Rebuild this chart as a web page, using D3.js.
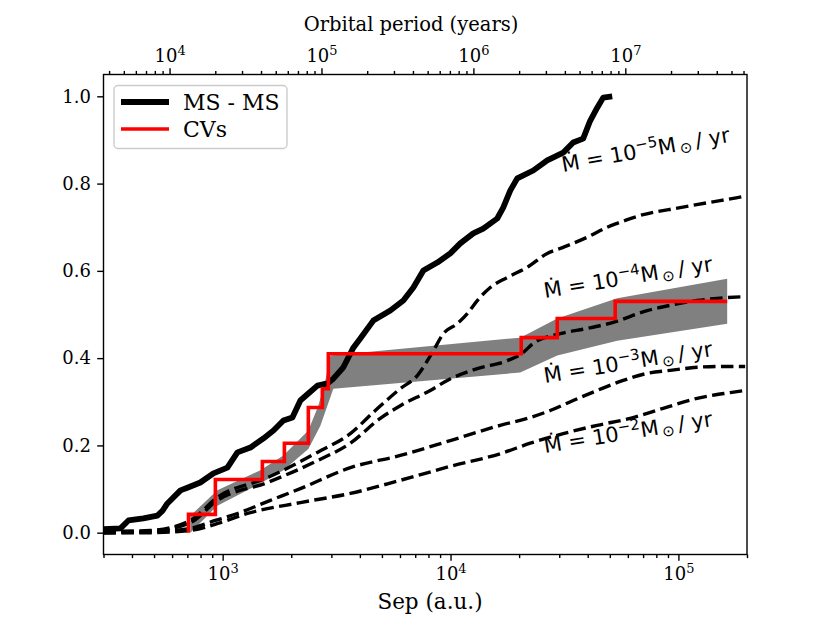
<!DOCTYPE html>
<html><head><meta charset="utf-8">
<script src="https://cdn.jsdelivr.net/npm/d3@7"></script>
<style>body{margin:0;background:#fff}svg{display:block}</style>
</head><body><svg id="c" width="830" height="623"></svg>
<script>
// ---------- data ----------
const msmsSep  = [300,356,386,449,517,544,572,653,700,798,911,1049,1161,1324,1510,1671,1848,2023,2193,2377,2605,2882,3061,3386,3747,4018,4583,5444,6209,6870,7599,8750,9976,11035,12584,13918,16032,17028,18281,19621,23067,26563,31236,34532,38194,41000,44031,46774,51245];
const msmsFrac = [0.008,0.010,0.028,0.033,0.039,0.050,0.067,0.097,0.103,0.115,0.136,0.149,0.184,0.195,0.216,0.234,0.257,0.264,0.303,0.319,0.337,0.342,0.353,0.379,0.424,0.445,0.486,0.509,0.532,0.562,0.601,0.619,0.640,0.663,0.686,0.697,0.720,0.745,0.784,0.812,0.830,0.853,0.871,0.894,0.903,0.944,0.974,0.997,1.0];

const cvSep  = [708,708,929,1494,1866,2377,2738,2909,20430,29400,52800,163700];
const cvFrac = [0,0.042,0.122,0.163,0.205,0.287,0.330,0.410,0.447,0.491,0.530,0.530];

const bandUpSep  = [722,948,1464,1847,2377,2630,2823,2970,20230,29400,53880,163700];
const bandUpFrac = [0.039,0.097,0.143,0.177,0.234,0.291,0.349,0.406,0.447,0.491,0.537,0.582];
const bandLoSep  = [722,948,1464,1847,2377,2685,2881,3060,20230,29400,53880,163700];
const bandLoFrac = [0.0,0.062,0.113,0.143,0.192,0.245,0.291,0.330,0.367,0.406,0.440,0.479];

const mdot5Sep  = [300,482,722,948,1572,2604,3633,4677,6020,7150,8404,9296,10705,11846,13105,14942,17744,21710,26563,31236,39800,48690,53880,67980,101800,152400,196300];
const mdot5Frac = [0.003,0.005,0.028,0.081,0.126,0.184,0.227,0.280,0.330,0.360,0.417,0.456,0.479,0.502,0.532,0.562,0.585,0.608,0.640,0.654,0.677,0.700,0.709,0.727,0.745,0.761,0.771];
const mdot4Sep  = [300,482,722,948,1572,2604,3633,4918,6020,8150,9678,13105,17744,20640,23067,30290,39800,51740,72940,92000,120900,147900,196300];
const mdot4Frac = [0.0,0.003,0.023,0.074,0.115,0.165,0.205,0.262,0.291,0.326,0.349,0.376,0.394,0.411,0.434,0.456,0.468,0.482,0.509,0.521,0.532,0.537,0.541];
const mdot3Sep  = [300,482,722,929,1161,1620,2193,3633,6020,9976,16530,22380,27380,34532,44031,57240,72940,92000,120900,147900,196300];
const mdot3Frac = [0.0,0.002,0.010,0.028,0.044,0.074,0.101,0.149,0.177,0.211,0.246,0.264,0.280,0.303,0.326,0.349,0.365,0.372,0.379,0.381,0.381];
const mdot2Sep  = [300,482,722,978,1284,2193,3633,6020,9976,16530,22380,31236,44031,61430,85730,120900,168700,196300];
const mdot2Frac = [0.0,0.0,0.005,0.023,0.044,0.069,0.090,0.120,0.152,0.181,0.205,0.227,0.246,0.262,0.285,0.308,0.321,0.326];

const mdotExps = ["−5","−4","−3","−2"];
const yTicks = [0,0.2,0.4,0.6,0.8,1.0];
const xMajorTicks = [1e3,1e4,1e5];
const topMajorTicks = [1e4,1e5,1e6,1e7];
const xDomain = [300,2e5];
const yDomain = [-0.05,1.05];
const totalMass = 2; // Msun, for period axis
const xLabel = "Sep (a.u.)", topLabel = "Orbital period (years)";
const legendLabels = ["MS - MS","CVs"];

// ---------- layout ----------
const L=103.5, R=747, T=74.5, B=554.5;
const svg = d3.select("#c");
const x = d3.scaleLog().domain(xDomain).range([L,R]);
const y = d3.scaleLinear().domain(yDomain).range([B,T]);
const period = a => Math.sqrt(a*a*a/totalMass);
const xTop = d3.scaleLog().domain(xDomain.map(period)).range([L,R]);

const zip = (xs,ys)=>xs.map((v,i)=>[v,ys[i]]);
const line = d3.line().x(d=>x(d[0])).y(d=>y(d[1]));

const g = svg.append("g");
svg.append("defs").append("clipPath").attr("id","clip").append("rect")
  .attr("x",L).attr("y",T).attr("width",R-L).attr("height",B-T);
const plot = g.append("g").attr("clip-path","url(#clip)");

// band
const bandPts = zip(bandUpSep,bandUpFrac).concat(zip(bandLoSep,bandLoFrac).reverse());
plot.append("path").attr("d", line(bandPts)+"Z").attr("fill","#808080").attr("stroke","none");

// MS-MS
plot.append("path").attr("d", line(zip(msmsSep,msmsFrac)))
  .attr("fill","none").attr("stroke","#000").attr("stroke-width",5.8).attr("stroke-linejoin","round");

// dashed mass-loss curves
const smooth = d3.line().x(d=>x(d[0])).y(d=>y(d[1])).curve(d3.curveMonotoneX);
[[mdot5Sep,mdot5Frac],[mdot4Sep,mdot4Frac],[mdot3Sep,mdot3Frac],[mdot2Sep,mdot2Frac]].forEach(([s,f])=>{
  plot.append("path").attr("d", smooth(zip(s,f)))
    .attr("fill","none").attr("stroke","#000").attr("stroke-width",3.4)
    .attr("stroke-dasharray","12.5,5.4");
});

// CVs step
const stepLine = d3.line().x(d=>x(d[0])).y(d=>y(d[1])).curve(d3.curveStepAfter);
plot.append("path").attr("d", stepLine(zip(cvSep,cvFrac)))
  .attr("fill","none").attr("stroke","#ff0000").attr("stroke-width",3.6);

// ---------- labels ----------
const labelPos = [[563,172,-10.2],[545,298,-9.2],[545,383,-9.2],[545,453,-9.2]];
mdotExps.forEach((e,i)=>{
  const [lx,ly,rot]=labelPos[i];
  const t = g.append("text").attr("transform",`translate(${lx},${ly}) rotate(${rot})`)
    .attr("font-family","DejaVu Sans").attr("font-size",21).attr("fill","#000");
  t.append("tspan").text("Ṁ = 10");
  t.append("tspan").attr("dy",-8.5).attr("font-size",15).text(e);
  t.append("tspan").attr("dy",8.5).text("M");
  t.append("tspan").attr("dx",3).attr("dy",3).attr("font-size",15).text("⊙");
  t.append("tspan").attr("dx",4).attr("dy",-3).text("/ yr");
});

// ---------- axes ----------
const serif = "DejaVu Serif";
function supLabel(sel){
  sel.each(function(d){
    const t=d3.select(this); t.text("");
    t.append("tspan").text("10");
    t.append("tspan").attr("dy","-0.5em").attr("font-size","0.72em").text(Math.round(Math.log10(d)));
  });
}
function styleAxis(ax){
  ax.select(".domain").remove();
  ax.selectAll("line").attr("stroke","#000").attr("stroke-width",1.4);
  ax.selectAll("text").attr("font-family",serif).attr("font-size",18).attr("fill","#000");
}
const xMinor = x.ticks().filter(v=>!xMajorTicks.includes(v));
let ax = g.append("g").attr("transform",`translate(0,${B})`)
  .call(d3.axisBottom(x).tickValues(xMinor).tickSize(3.6).tickFormat(""));
styleAxis(ax);
ax = g.append("g").attr("transform",`translate(0,${B})`)
  .call(d3.axisBottom(x).tickValues(xMajorTicks).tickSize(6.3).tickPadding(6.3));
styleAxis(ax); ax.selectAll("text").call(supLabel);
const topMinor = xTop.ticks().filter(v=>!topMajorTicks.includes(v));
ax = g.append("g").attr("transform",`translate(0,${T})`)
  .call(d3.axisTop(xTop).tickValues(topMinor).tickSize(3.6).tickFormat(""));
styleAxis(ax);
ax = g.append("g").attr("transform",`translate(0,${T})`)
  .call(d3.axisTop(xTop).tickValues(topMajorTicks).tickSize(6.3).tickPadding(6.3));
styleAxis(ax); ax.selectAll("text").call(supLabel);
ax = g.append("g").attr("transform",`translate(${L},0)`)
  .call(d3.axisLeft(y).tickValues(yTicks).tickSize(6.3).tickPadding(6.3).tickFormat(d3.format(".1f")));
styleAxis(ax);
g.append("rect").attr("x",L).attr("y",T).attr("width",R-L).attr("height",B-T)
  .attr("fill","none").attr("stroke","#000").attr("stroke-width",1.4);

// axis titles
g.append("text").attr("x",430).attr("y",609).attr("text-anchor","middle")
  .attr("font-family",serif).attr("font-size",21.5).text(xLabel);
g.append("text").attr("x",411).attr("y",31).attr("text-anchor","middle")
  .attr("font-family",serif).attr("font-size",19.5).text(topLabel);

// ---------- legend ----------
const lg = g.append("g");
lg.append("rect").attr("x",114).attr("y",85.5).attr("width",173).attr("height",63).attr("rx",4)
  .attr("fill","#fff").attr("fill-opacity",0.8).attr("stroke","#cccccc").attr("stroke-width",1.4);
lg.append("line").attr("x1",121).attr("x2",169).attr("y1",102).attr("y2",102)
  .attr("stroke","#000").attr("stroke-width",5.8);
lg.append("line").attr("x1",121).attr("x2",169).attr("y1",129).attr("y2",129)
  .attr("stroke","#ff0000").attr("stroke-width",3.6);
legendLabels.forEach((s,i)=>{
  lg.append("text").attr("x",183).attr("y",110+i*27).attr("font-family",serif).attr("font-size",22)
    .attr("fill","#000").text(s);
});
</script>
</body></html>
